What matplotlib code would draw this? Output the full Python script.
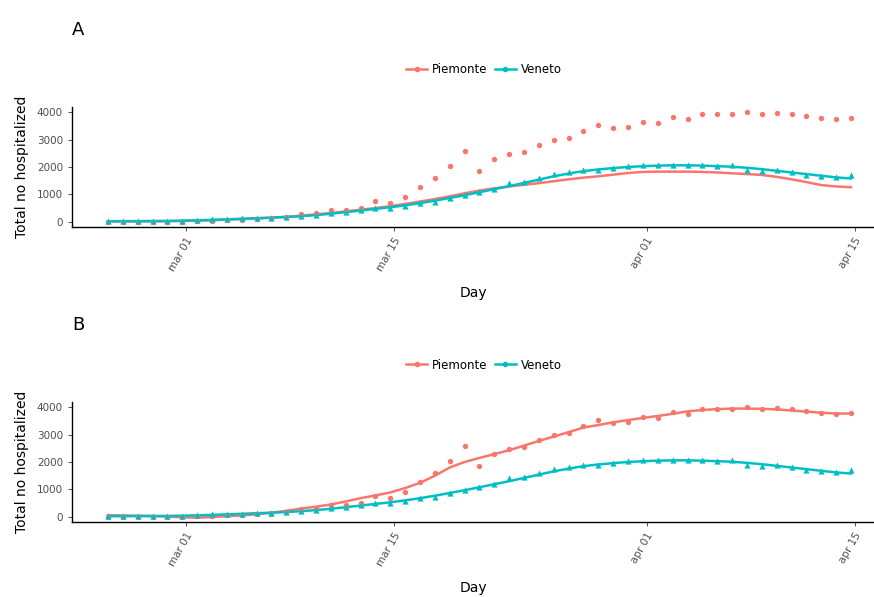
import numpy as np
import pandas as pd
import matplotlib
matplotlib.use("Agg")
import matplotlib.pyplot as plt
import matplotlib.dates as mdates
from matplotlib.lines import Line2D

# daily observations, 2020-02-24 18:00 .. 2020-04-14 18:00
days = pd.date_range("2020-02-24 18:00", periods=51, freq="D")

piemonte_obs = [5, 0, 0, 0, 5, 5, 20, 30, 50, 60, 100, 120, 180, 280, 330, 420, 440,
                510, 750, 700, 910, 1270, 1610, 2020, 2570, 1840, 2300, 2460, 2560,
                2790, 2970, 3050, 3320, 3550, 3440, 3460, 3650, 3610, 3840, 3760,
                3930, 3930, 3930, 4020, 3930, 3970, 3930, 3860, 3800, 3750, 3790]
veneto_obs = [20, 20, 25, 25, 30, 40, 80, 90, 100, 120, 140, 150, 160, 200, 240, 310,
              360, 430, 490, 490, 575, 675, 735, 860, 980, 1080, 1200, 1410, 1435,
              1600, 1750, 1800, 1875, 1900, 1960, 2020, 2085, 2085, 2085, 2085, 2085,
              2020, 2085, 1900, 1840, 1900, 1810, 1720, 1680, 1620, 1700]

# fitted curves
piemonte_fit_a = [10, 10, 10, 15, 20, 30, 40, 55, 75, 100, 125, 150, 180, 220, 270, 320,
                  380, 440, 500, 570, 650, 740, 830, 930, 1040, 1140, 1220, 1290, 1350,
                  1410, 1480, 1550, 1610, 1660, 1720, 1780, 1820, 1830, 1830, 1830, 1820,
                  1800, 1770, 1740, 1710, 1640, 1550, 1450, 1340, 1290, 1260]
piemonte_fit_b = [60, 50, 40, 30, 10, -20, -30, -10, 20, 50, 90, 150, 220, 300, 370, 450,
                  560, 680, 780, 890, 1050, 1240, 1500, 1800, 2000, 2150, 2290, 2430, 2600,
                  2770, 2930, 3090, 3260, 3350, 3450, 3530, 3610, 3680, 3760, 3850, 3900,
                  3930, 3950, 3950, 3940, 3920, 3880, 3840, 3800, 3770, 3770]
veneto_fit = [20, 22, 25, 28, 32, 40, 55, 70, 90, 110, 130, 150, 175, 205, 245, 295, 350,
              410, 470, 530, 600, 680, 770, 870, 970, 1080, 1190, 1300, 1420, 1540, 1660,
              1760, 1850, 1910, 1960, 2000, 2030, 2050, 2060, 2060, 2050, 2030, 2010, 1970,
              1920, 1860, 1800, 1740, 1680, 1620, 1580]

col_p = "#F8766D"
col_v = "#00BFC4"

fig = plt.figure(figsize=(8.74, 5.97), dpi=100)
panels = [("A", 0.6198, piemonte_fit_a), ("B", 0.1256, piemonte_fit_b)]

mar01 = mdates.date2num(pd.Timestamp("2020-03-01"))
xlim = (mar01 - 7.67, mar01 + 46.3)

for label, bottom, pfit in panels:
    ax = fig.add_axes([0.0824, bottom, 0.9176, 0.201])
    ax.plot(days, pfit, color=col_p, lw=1.8, zorder=2)
    ax.plot(days, veneto_fit, color=col_v, lw=1.8, zorder=2)
    ax.scatter(days, piemonte_obs, color=col_p, marker="o", s=15, lw=0, zorder=3)
    ax.scatter(days, veneto_obs, color=col_v, marker="^", s=20, lw=0, zorder=3)

    ax.set_xlim(*xlim)
    ax.set_ylim(-190, 4190)
    ax.set_yticks([0, 1000, 2000, 3000, 4000])
    ticks = pd.to_datetime(["2020-03-01", "2020-03-15", "2020-04-01", "2020-04-15"])
    ax.set_xticks(mdates.date2num(ticks))
    ax.set_xticklabels(["mar 01", "mar 15", "apr 01", "apr 15"], rotation=60,
                       ha="right", rotation_mode="anchor", fontsize=7.5, color="#4d4d4d")
    for t in ax.get_yticklabels():
        t.set_fontsize(7.5)
        t.set_color("#4d4d4d")
    ax.tick_params(length=3, width=0.6, color="#333333")
    for s in ["top", "right"]:
        ax.spines[s].set_visible(False)
    for s in ["left", "bottom"]:
        ax.spines[s].set_linewidth(1.0)
    ax.set_ylabel("Total no hospitalized", fontsize=10)
    ax.yaxis.set_label_coords(-0.054, 0.5)
    ax.set_xlabel("Day", fontsize=10)
    ax.xaxis.set_label_coords(0.5, -0.49)

    fig.text(78 / 874, bottom + 0.201 + (107 - 30) / 597, label, fontsize=13,
             ha="center", va="center")
    handles = [Line2D([], [], color=col_p, lw=1.8, marker="o", ms=3),
               Line2D([], [], color=col_v, lw=1.8, marker="o", ms=3)]
    fig.legend(handles, ["Piemonte", "Veneto"], loc="center",
               bbox_to_anchor=(484 / 874, bottom + 0.201 + (107 - 70) / 597),
               ncol=2, frameon=False, fontsize=8.5, handlelength=1.8,
               columnspacing=0.6, handletextpad=0.4)

fig.savefig("out.png", dpi=100)
